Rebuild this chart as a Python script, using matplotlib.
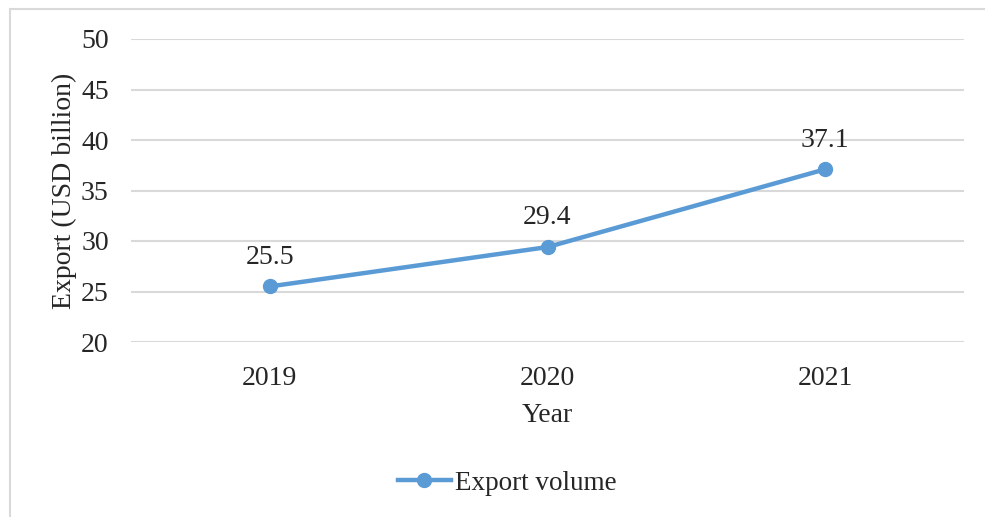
import matplotlib.pyplot as plt
from matplotlib.lines import Line2D

years = ["2019", "2020", "2021"]
export_volume = [25.5, 29.4, 37.1]
y_ticks = [20, 25, 30, 35, 40, 45, 50]

plt.rcParams["font.family"] = ["Liberation Serif", "DejaVu Serif"]

line_color = "#5B9BD5"
grid_color = "#D9D9D9"
text_color = "#262626"

fig = plt.figure(figsize=(9.85, 5.17), dpi=100)
ax = fig.add_axes([131 / 985, 1 - 342 / 517, 833 / 985, 303 / 517])

x = list(range(len(years)))
ax.plot(x, export_volume, color=line_color, linewidth=3.2, marker="o",
        markersize=10, solid_capstyle="round", zorder=3)

for xi, val in zip(x, export_volume):
    ax.annotate(f"{val}", (xi, val), xytext=(0, 12), textcoords="offset points",
                ha="center", va="bottom", fontsize=20, color=text_color)

ax.set_xlim(-0.5, len(years) - 0.5)
ax.set_ylim(y_ticks[0], y_ticks[-1])
ax.set_yticks(y_ticks)
ax.set_xticks(x)
ax.set_xticklabels(years)
ax.grid(axis="y", color=grid_color, linewidth=1.5)
ax.set_axisbelow(True)
for side in ["top", "right", "left", "bottom"]:
    ax.spines[side].set_visible(False)
ax.tick_params(axis="both", length=0, labelsize=20, colors=text_color)
ax.tick_params(axis="y", pad=16)
ax.tick_params(axis="x", pad=17)

ax.set_xlabel("Year", fontsize=20, color=text_color, labelpad=9)
ax.set_ylabel("Export (USD billion)", fontsize=20, color=text_color, labelpad=3)

handle = Line2D([], [], color=line_color, linewidth=3.2, marker="o", markersize=10)
fig.legend([handle], ["Export volume"], loc="center", bbox_to_anchor=(507 / 985, 1 - 483 / 517),
           frameon=False, fontsize=19.5, handlelength=1.95, handletextpad=0.15,
           labelcolor=text_color)

# thin frame along the top and left edges
fig.add_artist(Line2D([10 / 985, 1], [1 - 9 / 517, 1 - 9 / 517], color=grid_color, linewidth=1.5))
fig.add_artist(Line2D([10 / 985, 10 / 985], [0, 1 - 9 / 517], color=grid_color, linewidth=1.5))

fig.savefig("out.png", dpi=100)
